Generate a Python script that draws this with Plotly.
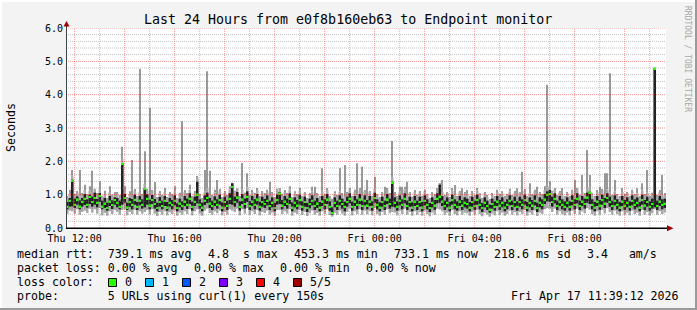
import plotly.graph_objects as go
from datetime import datetime, timedelta

# ---------------- data ----------------
START = datetime(2026, 4, 16, 11, 39, 12)
STEP_MIN = 6
title_text = "Last 24 Hours from e0f8b160eb63 to Endpoint monitor"

median_ms = [
    640, 820, 1420, 700, 860, 650, 790, 880, 700, 930, 780, 900, 760, 960, 650, 740, 600, 800, 690, 840,
    760, 640, 1920, 900, 620, 780, 700, 850, 640, 820, 700, 1170, 880, 680, 840, 720, 600, 780, 660, 820,
    620, 760, 690, 820, 600, 740, 660, 800, 700, 880, 640, 790, 1010, 700, 620, 820, 900, 740, 660, 800,
    700, 840, 620, 780, 660, 880, 1230, 780, 920, 640, 860, 720, 940, 660, 800, 700, 860, 640, 780, 720,
    820, 660, 760, 600, 840, 1040, 680, 800, 720, 880, 620, 760, 680, 840, 640, 780, 600, 720, 820, 660,
    740, 620, 800, 700, 860, 640, 453, 760, 660, 820, 720, 640, 780, 880, 640, 800, 700, 860, 660, 820,
    680, 800, 640, 900, 700, 620, 780, 660, 860, 720, 1370, 760, 640, 820, 700, 880, 660, 780, 620, 800,
    660, 780, 620, 820, 700, 600, 760, 680, 880, 950, 800, 660, 760, 620, 840, 700, 640, 800, 680, 760,
    720, 620, 780, 660, 840, 700, 600, 760, 660, 560, 720, 640, 800, 680, 760, 620, 700, 820, 660, 780,
    640, 780, 700, 840, 620, 760, 680, 820, 600, 760, 700, 860, 1000, 1020, 780, 880, 660, 800, 700, 640,
    760, 640, 820, 700, 880, 660, 800, 720, 920, 1070, 700, 620, 800, 680, 840, 740, 900, 780, 660, 820,
    700, 620, 800, 680, 760, 640, 820, 700, 760, 620, 840, 680, 780, 640, 720, 4790, 660, 800, 700, 733,
]
q1_ms = [
    560, 640, 650, 600, 700, 560, 640, 690, 610, 720, 640, 700, 620, 780, 560, 600, 520, 660, 570, 700,
    620, 560, 700, 760, 540, 640, 560, 700, 540, 680, 580, 620, 700, 560, 720, 580, 500, 640, 560, 660,
    520, 640, 560, 680, 500, 620, 540, 660, 570, 720, 520, 660, 740, 580, 500, 690, 750, 600, 540, 660,
    580, 700, 500, 640, 540, 720, 700, 640, 760, 520, 720, 580, 780, 540, 660, 560, 700, 520, 640, 600,
    680, 540, 620, 500, 700, 720, 560, 660, 580, 720, 500, 620, 560, 700, 520, 640, 480, 590, 680, 540,
    600, 500, 660, 560, 720, 520, 400, 620, 540, 680, 580, 500, 640, 740, 520, 660, 560, 720, 540, 680,
    560, 660, 520, 760, 560, 500, 640, 540, 720, 580, 640, 620, 520, 680, 560, 740, 540, 640, 500, 660,
    540, 640, 500, 680, 560, 480, 620, 540, 740, 760, 660, 540, 620, 500, 700, 560, 520, 660, 540, 620,
    580, 500, 640, 540, 700, 560, 480, 620, 540, 460, 580, 520, 660, 540, 620, 500, 560, 680, 540, 640,
    520, 640, 560, 700, 500, 620, 540, 680, 480, 620, 560, 720, 800, 780, 640, 740, 540, 660, 560, 520,
    620, 520, 680, 560, 740, 540, 660, 580, 760, 720, 560, 500, 660, 540, 700, 600, 760, 640, 540, 680,
    560, 500, 660, 540, 620, 520, 680, 560, 620, 500, 700, 540, 640, 520, 580, 620, 540, 660, 560, 600,
]
q3_ms = [
    780, 900, 1450, 880, 950, 830, 900, 1020, 860, 1000, 940, 1060, 870, 1050, 820, 900, 760, 960, 830, 920,
    900, 820, 1950, 1020, 760, 900, 870, 1000, 780, 960, 860, 1200, 1010, 850, 990, 870, 760, 930, 820, 960,
    780, 900, 840, 980, 740, 880, 800, 960, 880, 1040, 790, 940, 1390, 860, 760, 980, 1060, 900, 820, 950,
    860, 1000, 770, 940, 820, 1040, 1340, 940, 1080, 800, 1020, 880, 1100, 810, 960, 860, 1020, 790, 940, 870,
    980, 820, 920, 760, 1000, 1080, 840, 960, 880, 1040, 770, 920, 840, 1000, 800, 940, 750, 880, 980, 820,
    900, 780, 960, 860, 1020, 800, 620, 920, 820, 980, 880, 790, 940, 1040, 790, 960, 860, 1020, 820, 980,
    840, 960, 800, 1060, 860, 770, 940, 820, 1020, 880, 1390, 920, 800, 980, 860, 1040, 820, 940, 770, 960,
    820, 940, 780, 980, 860, 750, 920, 840, 1040, 1300, 960, 820, 920, 780, 1000, 860, 800, 960, 840, 920,
    880, 780, 940, 820, 1000, 860, 750, 920, 820, 700, 880, 800, 960, 840, 920, 780, 860, 980, 820, 940,
    800, 940, 860, 1000, 780, 920, 840, 980, 760, 920, 860, 1020, 1100, 1140, 940, 1040, 820, 960, 860, 800,
    920, 800, 980, 860, 1040, 820, 960, 880, 1060, 1090, 860, 780, 960, 840, 1000, 900, 1040, 940, 820, 980,
    860, 780, 960, 840, 920, 800, 980, 860, 920, 780, 1000, 840, 940, 800, 880, 4790, 820, 960, 860, 880,
]
min_ms = [
    420, 520, 500, 430, 560, 400, 480, 520, 450, 580, 460, 560, 430, 600, 380, 450, 370, 500, 420, 540,
    480, 400, 540, 560, 380, 480, 420, 540, 400, 500, 430, 480, 540, 410, 560, 430, 360, 480, 400, 500,
    380, 470, 420, 520, 370, 460, 400, 500, 420, 560, 380, 500, 560, 430, 370, 520, 580, 450, 400, 500,
    440, 520, 380, 480, 400, 560, 520, 480, 580, 380, 560, 430, 600, 400, 500, 420, 540, 380, 480, 450,
    520, 400, 460, 370, 540, 540, 420, 500, 430, 560, 370, 460, 420, 540, 390, 480, 360, 440, 520, 400,
    450, 370, 500, 420, 560, 390, 340, 460, 400, 520, 430, 370, 480, 580, 380, 500, 420, 560, 400, 520,
    410, 500, 380, 600, 420, 370, 480, 400, 560, 440, 480, 460, 380, 520, 420, 580, 400, 480, 370, 500,
    400, 480, 370, 520, 420, 350, 460, 400, 580, 560, 500, 400, 460, 370, 540, 420, 380, 500, 400, 460,
    440, 370, 480, 400, 540, 420, 350, 460, 400, 340, 430, 380, 500, 400, 460, 370, 420, 520, 400, 480,
    380, 480, 420, 540, 370, 460, 400, 520, 360, 460, 420, 560, 600, 580, 480, 580, 400, 500, 420, 380,
    460, 380, 520, 420, 580, 400, 500, 440, 600, 550, 420, 370, 500, 400, 540, 440, 600, 480, 400, 520,
    420, 370, 500, 400, 460, 380, 520, 420, 460, 370, 540, 400, 480, 380, 440, 560, 400, 500, 420, 460,
]
max_ms = [
    940, 1150, 1740, 1020, 1100, 1740, 1050, 1300, 1000, 1250, 1720, 1180, 1040, 1400, 960, 1120, 900, 1250, 1000, 1080,
    1060, 980, 2440, 1250, 920, 1100, 2040, 1150, 960, 4770, 1020, 2300, 1180, 3600, 1120, 1380, 920, 1100, 980, 1200,
    920, 1080, 1000, 1250, 900, 1060, 3200, 1120, 1040, 1300, 960, 1100, 1540, 1020, 900, 1740, 4700, 1720, 980, 1150,
    1440, 1150, 920, 1100, 980, 1250, 1360, 1120, 1190, 960, 1950, 1060, 1640, 980, 1150, 1050, 1200, 940, 1100, 1040,
    1150, 1390, 1080, 920, 1180, 1200, 1000, 1120, 1040, 1250, 920, 1100, 1000, 1200, 960, 1080, 900, 1050, 1240, 1240,
    1050, 960, 1790, 1020, 1200, 960, 880, 1100, 980, 1790, 1040, 1890, 1080, 1200, 940, 1150, 1940, 1180, 1840, 1120,
    1440, 1100, 960, 1540, 1020, 920, 1080, 1240, 1180, 1040, 2610, 1080, 960, 1240, 1240, 1240, 1390, 1080, 940, 1120,
    1000, 1100, 940, 1150, 1020, 900, 1060, 1000, 1200, 1350, 1440, 980, 1080, 920, 1200, 1290, 960, 1100, 1190, 1080,
    1140, 960, 1100, 980, 1200, 1040, 900, 1080, 980, 860, 1040, 960, 1150, 1000, 1100, 940, 1020, 1180, 980, 1100,
    1190, 1080, 1690, 1150, 940, 1340, 1000, 1150, 1240, 1080, 1020, 1250, 4300, 1400, 1120, 1200, 980, 1100, 1190, 960,
    1080, 960, 1150, 1440, 1200, 980, 1590, 1040, 2340, 1590, 1040, 940, 1120, 1240, 1150, 1640, 1640, 4640, 980, 1440,
    1020, 940, 1200, 1000, 1080, 960, 1150, 1020, 1190, 940, 1340, 1000, 1740, 960, 1060, 4800, 980, 1120, 1590, 1050,
]

y_ticks = [0, 1, 2, 3, 4, 5, 6]
x_tick_times = ["2026-04-16 12:00", "2026-04-16 16:00", "2026-04-16 20:00",
                "2026-04-17 00:00", "2026-04-17 04:00", "2026-04-17 08:00"]
x_tick_text = ["Thu 12:00", "Thu 16:00", "Thu 20:00", "Fri 00:00", "Fri 04:00", "Fri 08:00"]

legend_row1 = ["median rtt:  739.1 ms avg", "4.8  s max", "453.3 ms min",
               "733.1 ms now", "218.6 ms sd", "3.4   am/s"]
legend_row2 = ["packet loss: 0.00 % avg", "0.00 % max", "0.00 % min", "0.00 % now"]
loss_label = "loss color:"
loss_names = ["0", "1", "2", "3", "4", "5/5"]
loss_colors = ["#26ff00", "#00b8ff", "#0059ff", "#7e00ff", "#ff0000", "#a00000"]
probe_text = "probe:       5 URLs using curl(1) every 150s"
stamp_text = "Fri Apr 17 11:39:12 2026"
watermark = "RRDTOOL / TOBI OETIKER"
y_title = "Seconds"

# ---------------- layout constants ----------------
W, H = 697, 310
L, T, PW, PH = 66, 28, 600, 200
MONO = "DejaVu Sans Mono"

def px(x):
    return (x - L) / PW

def py(y):
    return (T + PH - y) / PH

N = len(median_ms)
times = [START + timedelta(minutes=STEP_MIN * (i + 0.5)) for i in range(N)]
t_end = START + timedelta(hours=24)
bw = STEP_MIN * 60 * 1000

s = lambda a: [v / 1000 for v in a]
med, q1, q3, lo, hi = s(median_ms), s(q1_ms), s(q3_ms), s(min_ms), s(max_ms)
MH = 0.055
SOLID = 0.12   # solid smoke extends this far above q3; higher outliers drawn as thin strokes

solid_top = [min(h, u + SOLID) for h, u in zip(hi, q3)]

fig = go.Figure()
# thin outlier strokes (upper smoke above the solid part)
fig.add_trace(go.Bar(x=times, base=solid_top, y=[h - st for h, st in zip(hi, solid_top)], width=bw * 0.5,
                     marker=dict(color="#999999", line=dict(width=0))))
# outer smoke (solid)
fig.add_trace(go.Bar(x=times, base=lo, y=[st - l for st, l in zip(solid_top, lo)], width=bw,
                     marker=dict(color="#a8a8a8", line=dict(width=0))))
# inner smoke
fig.add_trace(go.Bar(x=times, base=q1, y=[h - l for h, l in zip(q3, q1)], width=bw,
                     marker=dict(color="#202020", line=dict(width=0))))
# median
fig.add_trace(go.Bar(x=times, base=[m - MH / 2 for m in med], y=[MH] * N, width=bw,
                     marker=dict(color=loss_colors[0], line=dict(width=0))))

shapes = []
# vertical grid: hourly
for h in range(24):
    t = datetime(2026, 4, 16, 12) + timedelta(hours=h)
    major = (t.hour % 2 == 0)
    shapes.append(dict(type="line", xref="x", yref="paper", x0=t, x1=t, y0=0, y1=1, layer="above",
                       line=dict(color="rgba(255,0,0,0.42)" if major else "rgba(120,120,120,0.45)",
                                 width=1, dash="1px,1px")))
# horizontal grid
for k in range(1, 31):
    v = k * 0.2
    major = (k % 5 == 0)
    shapes.append(dict(type="line", xref="paper", yref="y", x0=0, x1=1, y0=v, y1=v, layer="above",
                       line=dict(color="rgba(255,0,0,0.42)" if major else "rgba(120,120,120,0.45)",
                                 width=1, dash="1px,1px")))
# axes lines
shapes.append(dict(type="line", xref="paper", yref="paper", x0=px(66.5), x1=px(66.5), y0=py(228.5), y1=py(23),
                   layer="above", line=dict(color="#404040", width=1)))
shapes.append(dict(type="line", xref="paper", yref="paper", x0=px(66), x1=px(668), y0=py(228.3), y1=py(228.3),
                   layer="above", line=dict(color="#000000", width=1.5)))
# arrows
shapes.append(dict(type="path", xref="paper", yref="paper", layer="above",
                   path=f"M {px(667)} {py(225.3)} L {px(673.5)} {py(228.3)} L {px(667)} {py(231.3)} Z",
                   fillcolor="#a00000", line=dict(width=0)))
shapes.append(dict(type="path", xref="paper", yref="paper", layer="above",
                   path=f"M {px(63.5)} {py(26.5)} L {px(66.5)} {py(21)} L {px(69.5)} {py(26.5)} Z",
                   fillcolor="#a00000", line=dict(width=0)))
# frame
shapes.append(dict(type="line", xref="paper", yref="paper", x0=px(0), x1=px(W), y0=py(1), y1=py(1),
                   line=dict(color="#ffffff", width=2)))
shapes.append(dict(type="line", xref="paper", yref="paper", x0=px(1), x1=px(1), y0=py(0), y1=py(H),
                   line=dict(color="#ffffff", width=2)))
shapes.append(dict(type="line", xref="paper", yref="paper", x0=px(0), x1=px(W), y0=py(H - 1), y1=py(H - 1),
                   line=dict(color="#9a9a9a", width=2)))
shapes.append(dict(type="line", xref="paper", yref="paper", x0=px(W - 1), x1=px(W - 1), y0=py(0), y1=py(H),
                   line=dict(color="#9a9a9a", width=2)))
# loss colour boxes
box_x0 = 108.5
for j, c in enumerate(loss_colors):
    bx = box_x0 + 37 * j
    shapes.append(dict(type="rect", xref="paper", yref="paper", x0=px(bx), x1=px(bx + 8),
                       y0=py(286.5), y1=py(278.5), fillcolor=c, line=dict(color="#000000", width=1)))

ann = []
def text(x, y, t, size=11.6, anchor="left", color="#000000", angle=0):
    ann.append(dict(xref="paper", yref="paper", x=px(x), y=py(y), text=t, showarrow=False,
                    xanchor=anchor, yanchor="middle", borderpad=0, textangle=angle,
                    font=dict(family=MONO, size=size, color=color)))

text(348, 19, title_text, size=13.3, anchor="center")
text(11, 128, y_title, size=11.6, anchor="center", angle=-90)
text(688, 59, watermark, size=8, anchor="center", color="#a8a8a8", angle=90)

row1_x = [16, 207, 293, 393, 493, 586]
for t, x in zip(legend_row1, row1_x):
    text(x, 254, t.replace(" ", "&nbsp;"))
row2_x = [16, 193, 279, 365]
for t, x in zip(legend_row2, row2_x):
    text(x, 268, t.replace(" ", "&nbsp;"))
text(16, 282, loss_label.replace(" ", "&nbsp;"))
for j, nm in enumerate(loss_names):
    text(box_x0 + 37 * j + 15, 282, nm)
text(16, 296, probe_text.replace(" ", "&nbsp;"))
text(680, 296, stamp_text.replace(" ", "&nbsp;"), anchor="right")

fig.update_layout(
    width=W, height=H, autosize=False,
    margin=dict(l=L, r=W - L - PW, t=T, b=H - T - PH, pad=0),
    paper_bgcolor="#f3f3f3", plot_bgcolor="#ffffff",
    barmode="overlay", showlegend=False,
    shapes=shapes, annotations=ann,
    xaxis=dict(type="date", range=[START, t_end], showgrid=False, zeroline=False, showline=False,
               tickmode="array", tickvals=x_tick_times, ticktext=x_tick_text, ticks="",
               tickfont=dict(family=MONO, size=10, color="#000000"), ticklabelstandoff=3),
    yaxis=dict(range=[0, 6], showgrid=False, zeroline=False, showline=False,
               tickmode="array", tickvals=y_ticks, ticktext=[f"{v:.1f}" for v in y_ticks], ticks="",
               tickfont=dict(family=MONO, size=10, color="#000000"), ticklabelstandoff=2),
)

fig.write_html("out.html")
